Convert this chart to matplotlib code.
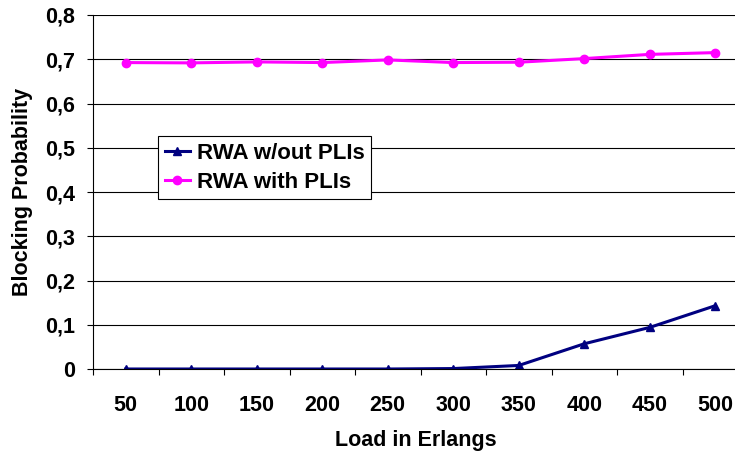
import matplotlib
matplotlib.use("Agg")
import matplotlib.pyplot as plt
from matplotlib.ticker import FuncFormatter, FixedLocator

# data
loads = ["50", "100", "150", "200", "250", "300", "350", "400", "450", "500"]
rwa_without_pli = [0.0, 0.0, 0.0, 0.0, 0.0, 0.001, 0.008, 0.057, 0.094, 0.143]
rwa_with_pli = [0.6925, 0.6918, 0.694, 0.6925, 0.6985, 0.6925, 0.6933, 0.7015, 0.711, 0.715]
y_ticks = [0, 0.1, 0.2, 0.3, 0.4, 0.5, 0.6, 0.7, 0.8]

plt.rcParams['font.family'] = ['Liberation Sans', 'DejaVu Sans']
plt.rcParams['font.weight'] = 'bold'

fig = plt.figure(figsize=(7.35, 4.55), dpi=100, facecolor="white")
# axes run past the right edge like the cropped original
ax = fig.add_axes([93/735, 86/455, 655/735, 354/455])

x = list(range(len(loads)))
ax.plot(x, rwa_without_pli, color='#000080', marker='^', markersize=6,
        linewidth=2.2, label='RWA w/out PLIs')
ax.plot(x, rwa_with_pli, color='#FF00FF', marker='o', markersize=6,
        linewidth=2.2, label='RWA with PLIs')

ax.set_xlim(-0.5, 9.5)
ax.set_ylim(0, 0.8)

ax.set_yticks(y_ticks)
ax.yaxis.set_major_formatter(FuncFormatter(
    lambda v, p: "0" if v == 0 else ("%.1f" % v).replace(".", ",")))
ax.grid(axis='y', color='#000000', linewidth=0.8)
ax.set_axisbelow(True)

# category labels at centers, tick marks at boundaries
ax.set_xticks(x)
ax.set_xticklabels(loads)
ax.xaxis.set_minor_locator(FixedLocator([i - 0.5 for i in range(11)]))
ax.tick_params(axis='x', which='major', length=0, pad=19, labelsize=15.5)
ax.tick_params(axis='x', which='minor', length=4.5, width=0.8, color='#000000')
ax.tick_params(axis='y', length=4.5, width=0.8, pad=8.5, labelsize=15.5)

for side in ['top', 'right']:
    ax.spines[side].set_visible(False)
ax.spines['left'].set_linewidth(0.8)
ax.spines['bottom'].set_linewidth(0.8)

ax.set_xlabel("Load in Erlangs", fontsize=15.5, fontweight='bold')
ax.set_ylabel("Blocking Probability", fontsize=15.5, fontweight='bold')
ax.xaxis.set_label_coords((416 - 93) / 655, -0.172)
ax.yaxis.set_label_coords((33 - 93) / 655, 0.5)

leg = ax.legend(loc='upper left', bbox_to_anchor=(0.099, 0.658), borderaxespad=0,
                fontsize=16, frameon=True, fancybox=False, handlelength=1.15,
                handletextpad=0.3, borderpad=0.3, labelspacing=0.35)
leg.get_frame().set_edgecolor('#000000')
leg.get_frame().set_linewidth(0.8)
leg.get_frame().set_alpha(1)

fig.savefig("out.png", dpi=100, facecolor="white")
